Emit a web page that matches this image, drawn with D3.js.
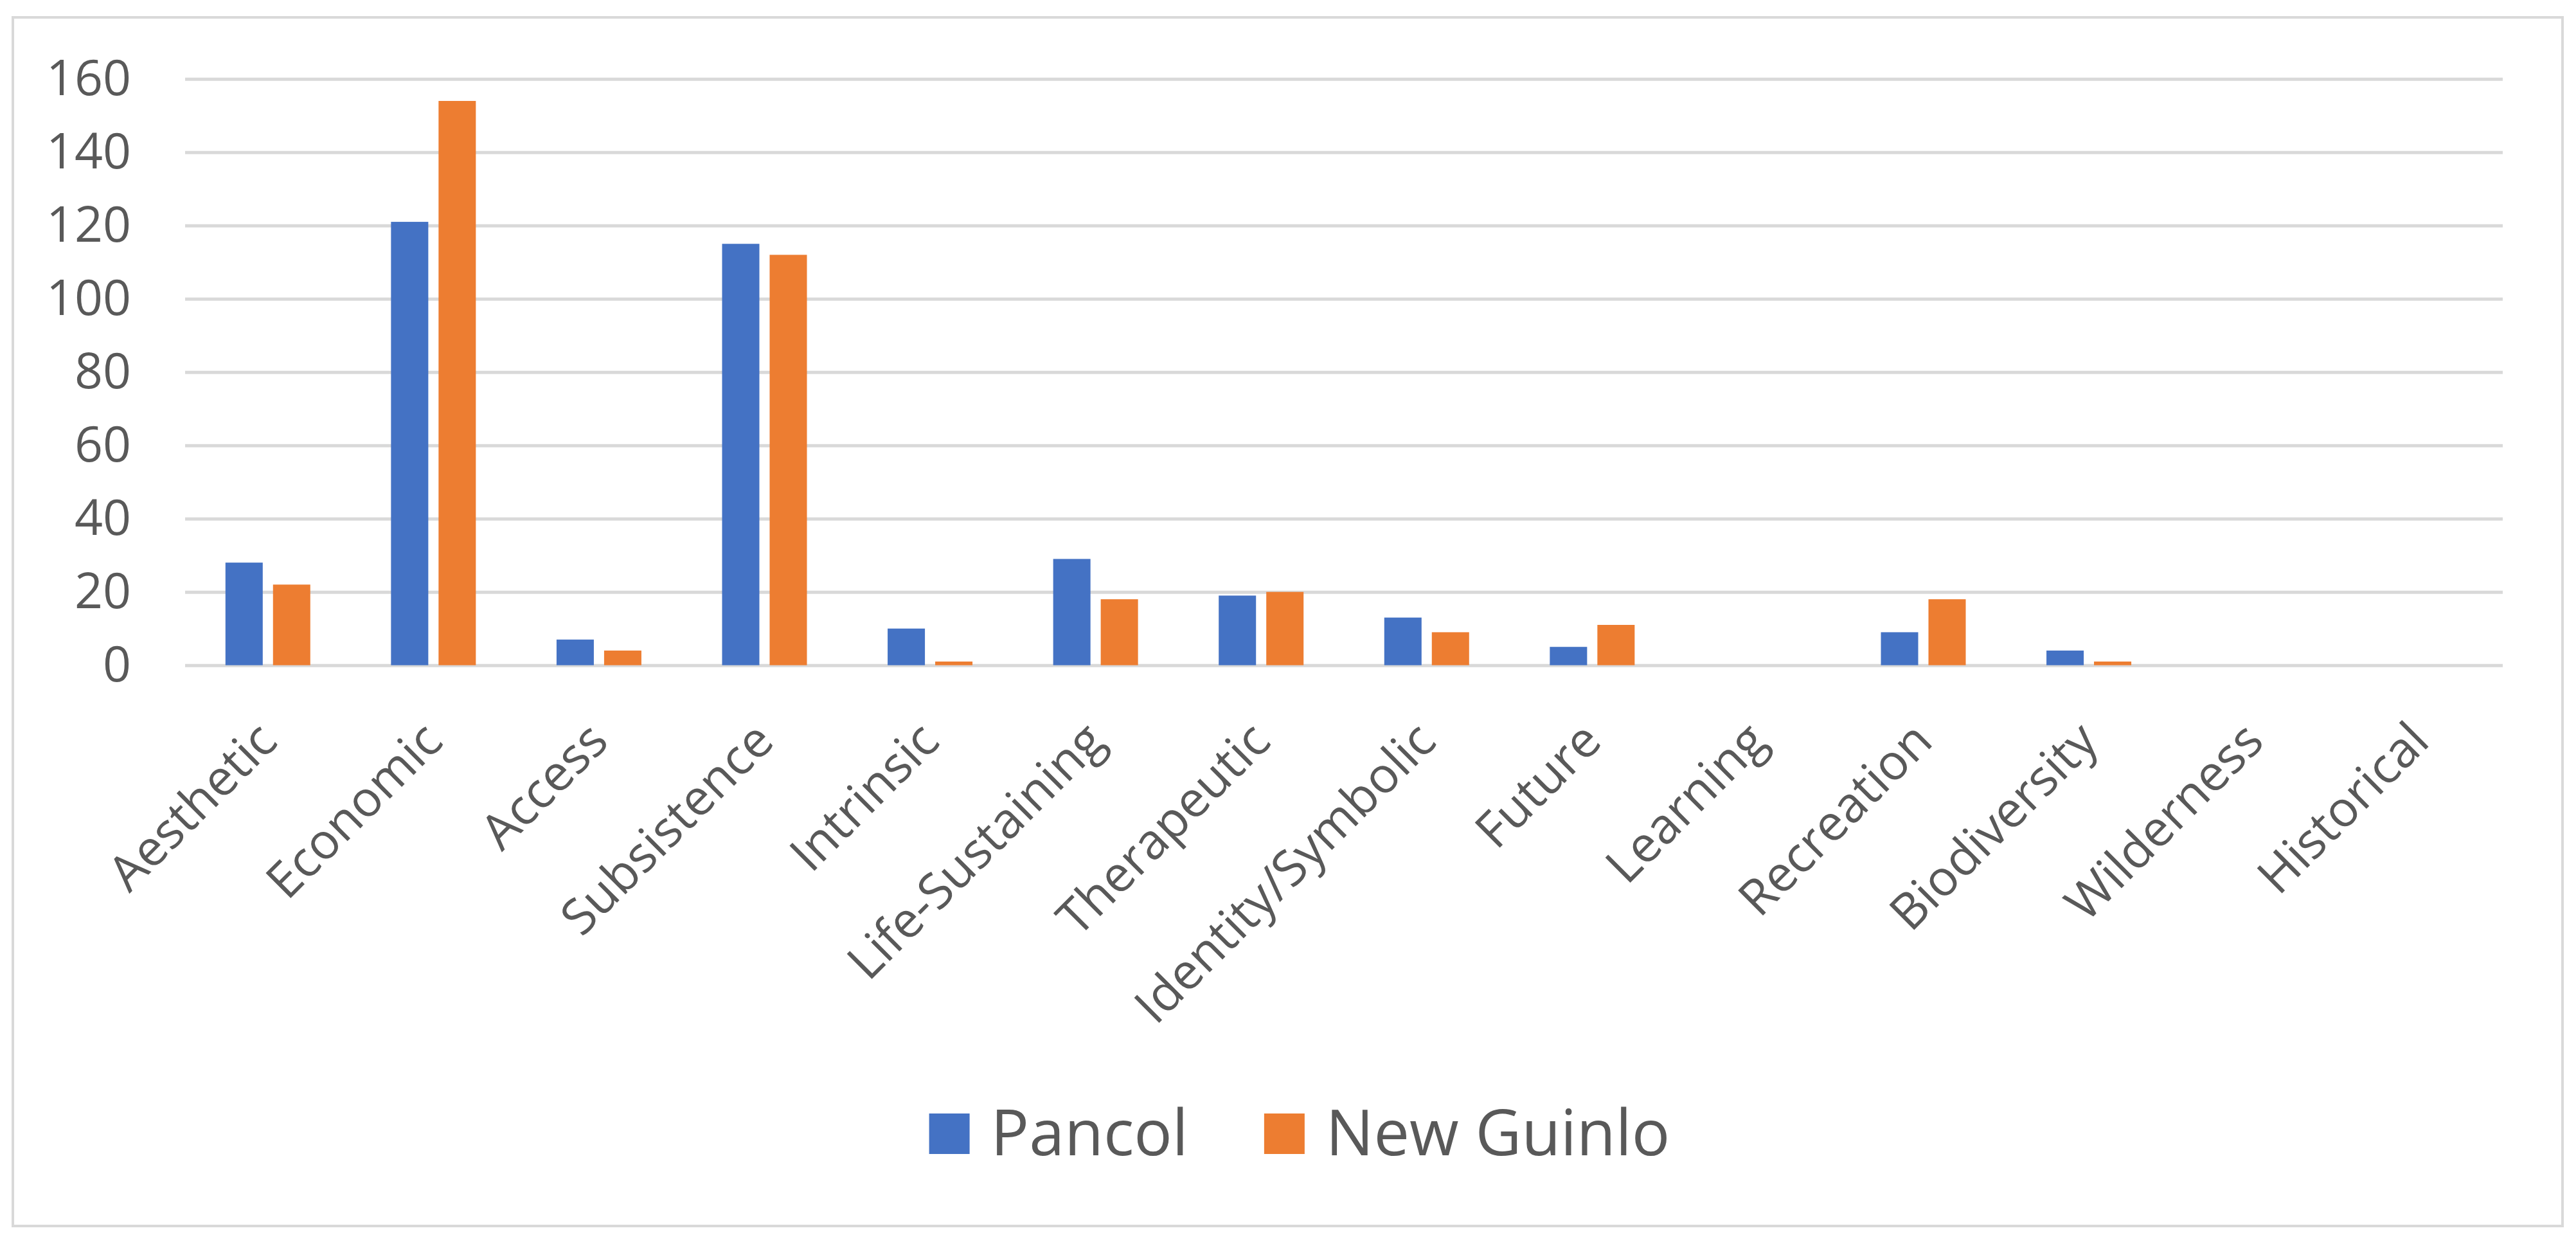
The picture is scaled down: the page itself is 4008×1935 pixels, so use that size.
<!DOCTYPE html>
<html>
<head>
<meta charset="utf-8">
<script src="https://cdn.jsdelivr.net/npm/d3@7"></script>
<style>
  html, body { margin: 0; padding: 0; background: #fff; }
  svg text { font-family: "Open Sans", "Noto Sans", sans-serif; fill: #595959; }
</style>
</head>
<body>
<svg id="chart" width="4008" height="1935"></svg>
<script>
// data
const categories = ["Aesthetic", "Economic", "Access", "Subsistence", "Intrinsic", "Life-Sustaining",
  "Therapeutic", "Identity/Symbolic", "Future", "Learning", "Recreation", "Biodiversity",
  "Wilderness", "Historical"];
const seriesNames = ["Pancol", "New Guinlo"];
const pancol    = [28, 121, 7, 115, 10, 29, 19, 13, 5, 0, 9, 4, 0, 0];
const newGuinlo = [22, 154, 4, 112, 1, 18, 20, 9, 11, 0, 18, 1, 0, 0];
const yTicks = [0, 20, 40, 60, 80, 100, 120, 140, 160];
const colors = ["#4472C4", "#ED7D31"];

const svg = d3.select("#chart");
const gridColor = "#d9d9d9";

// outer frame
svg.append("rect")
  .attr("x", 20).attr("y", 27)
  .attr("width", 3967).attr("height", 1880)
  .attr("fill", "#fff")
  .attr("stroke", gridColor)
  .attr("stroke-width", 4);

const plotLeft = 288, plotRight = 3894, plotTop = 122.8, plotBottom = 1034.7;

const y = d3.scaleLinear().domain([0, 160]).range([plotBottom, plotTop]);
const x0 = d3.scaleBand().domain(categories).range([plotLeft, plotRight]).padding(0);
// two bars of ~58px with a 16px gap, centred in each band
const groupW = 132;
const x1 = d3.scaleBand().domain(seriesNames).range([0, groupW]).paddingInner(0.216);

// y axis + gridlines
const yAxis = svg.append("g")
  .attr("transform", "translate(" + plotLeft + ",0)")
  .call(d3.axisLeft(y).tickValues(yTicks).tickSize(-(plotRight - plotLeft)).tickPadding(84).tickFormat(d3.format("d")));
yAxis.select(".domain").remove();
yAxis.selectAll(".tick line").attr("stroke", gridColor).attr("stroke-width", 5);
yAxis.selectAll(".tick text").attr("font-size", 77).style("fill", "#595959");

// bars
const rows = categories.map((c, i) => ({ cat: c, values: [pancol[i], newGuinlo[i]] }));
const groups = svg.append("g").selectAll("g")
  .data(rows)
  .enter().append("g")
  .attr("transform", d => "translate(" + (x0(d.cat) + (x0.bandwidth() - groupW) / 2) + ",0)");

groups.selectAll("rect")
  .data(d => d.values.map((v, k) => ({ name: seriesNames[k], value: v, k: k })))
  .enter().append("rect")
  .attr("x", d => x1(d.name))
  .attr("width", x1.bandwidth())
  .attr("y", d => y(d.value))
  .attr("height", d => y(0) - y(d.value))
  .attr("fill", d => colors[d.k]);

// x axis (category labels, rotated)
const xAxis = svg.append("g")
  .attr("transform", "translate(0," + plotBottom + ")")
  .call(d3.axisBottom(x0).tickSize(0));
xAxis.select(".domain").remove();
xAxis.selectAll(".tick text")
  .attr("font-size", 77)
  .attr("x", 0).attr("y", 0).attr("dy", 0)
  .attr("text-anchor", "end")
  .attr("transform", "translate(18,122) rotate(-45)")
  .style("fill", "#595959");

// legend
const legend = svg.append("g");
const items = legend.selectAll("g")
  .data(seriesNames)
  .enter().append("g");
items.append("rect")
  .attr("width", 63).attr("height", 63)
  .attr("y", 1732)
  .attr("fill", (d, i) => colors[i]);
items.append("text")
  .attr("font-size", 99)
  .attr("y", 1797)
  .attr("x", 96)
  .text(d => d);

let cursor = 0;
const positions = [];
items.each(function () {
  const w = d3.select(this).select("text").node().getComputedTextLength();
  positions.push(cursor);
  cursor += 96 + w + 118;
});
const totalW = cursor - 118;
const startX = 2022 - totalW / 2;
items.attr("transform", (d, i) => "translate(" + (startX + positions[i]) + ",0)");
</script>
</body>
</html>
